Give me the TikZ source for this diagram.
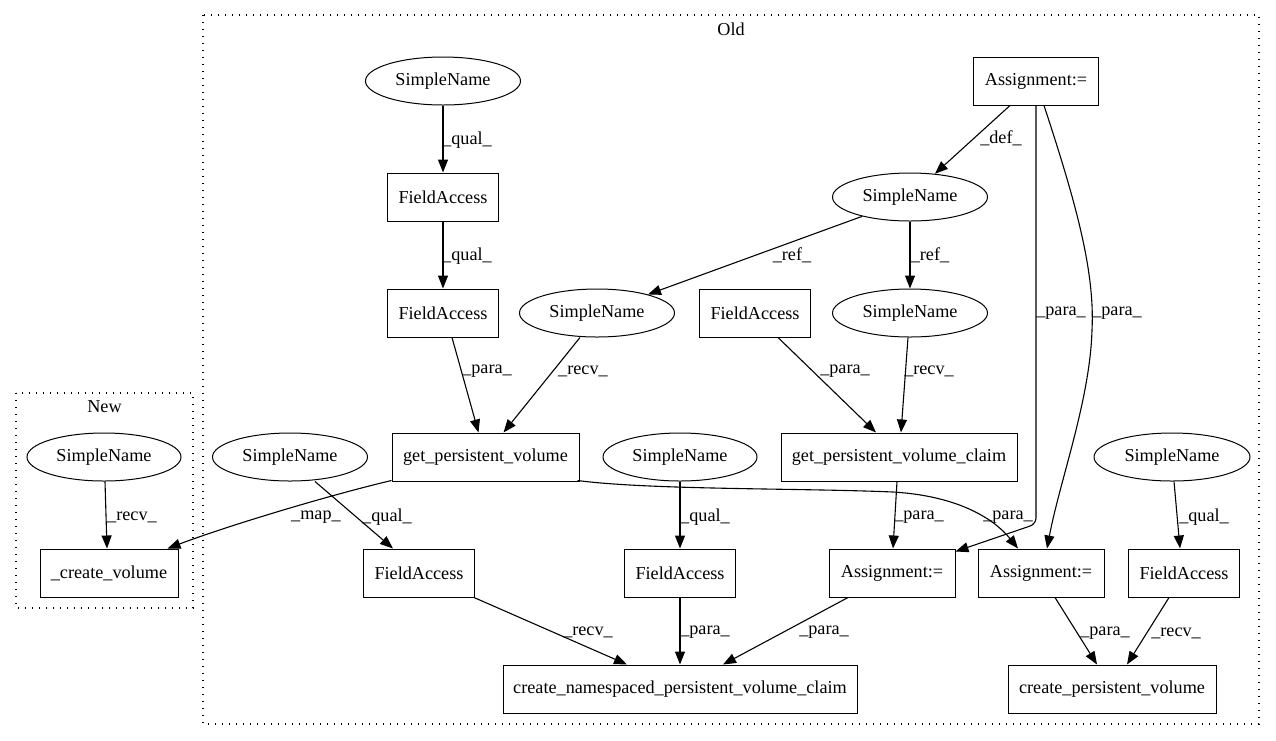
\documentclass[tikz,border=0pt]{standalone}
\usepackage{fontspec}
\setmainfont{Liberation Serif}
\usetikzlibrary{shapes.geometric,arrows.meta}
\begin{document}
\begin{tikzpicture}[x=1pt,y=-1pt,
  every node/.style={font=\fontsize{18.2}{22}\selectfont},
  box/.style={draw, rectangle, line width=1pt, minimum height=48pt, inner sep=0pt},
  ell/.style={draw, ellipse, line width=1pt, minimum height=48pt, minimum width=155pt, inner sep=0pt},
  conn/.style={draw, line width=1.1pt, -{Triangle[length=13pt,width=10pt]}},
  lbl/.style={inner sep=0pt},
  cluster/.style={draw, line width=1.3pt, dash pattern=on 1.3pt off 5.7pt}]
\useasboundingbox (0,0) rectangle (1276,740);
% clusters
\draw[cluster] (203,15) rectangle (1259,724);
\node[lbl] (oldlbl) at (731,29) {Old};
\draw[cluster] (16,393) rectangle (193,608);
\node[lbl] (newlbl) at (104.5,407) {New};
% nodes
\node[ell] (sn1) at (443,81) {SimpleName};
\node[box, minimum width=111pt] (fa1) at (443,197) {FieldAccess};
\node[box, minimum width=111pt] (fa2) at (443,313) {FieldAccess};
\node[box, minimum width=125pt] (as1) at (1036,81) {Assignment:=};
\node[ell] (sn2) at (910,197) {SimpleName};
\node[ell] (sn3) at (597,313) {SimpleName};
\node[box, minimum width=111pt] (fa3) at (755,313) {FieldAccess};
\node[ell] (sn4) at (910,313) {SimpleName};
\node[box, minimum width=187pt] (gpv) at (485.5,457) {get\_persistent\_volume};
\node[box, minimum width=236pt] (gpvc) at (899,457) {get\_persistent\_volume\_claim};
\node[ell, minimum width=154pt] (snN) at (104,457) {SimpleName};
\node[box, minimum width=138pt] (cv) at (109,573) {\_create\_volume};
\node[ell] (sn5) at (290,457) {SimpleName};
\node[ell, minimum width=154pt] (sn6) at (680,457) {SimpleName};
\node[ell, minimum width=156pt] (sn7) at (1172,457) {SimpleName};
\node[box, minimum width=111pt] (fa4) at (419,573) {FieldAccess};
\node[box, minimum width=111pt] (fa5) at (680,573) {FieldAccess};
\node[box, minimum width=126pt] (as2) at (892,573) {Assignment:=};
\node[box, minimum width=126pt] (as3) at (1041,573) {Assignment:=};
\node[box, minimum width=111pt] (fa6) at (1184,573) {FieldAccess};
\node[box, minimum width=354pt] (cnpvc) at (680,689) {create\_namespaced\_persistent\_volume\_claim};
\node[box, minimum width=208pt] (cpv) at (1112,689) {create\_persistent\_volume};
% edges
\draw[conn] (sn1.south) -- (fa1.north);
\node[lbl] (l1) at (467,140) {\_qual\_};
\draw[conn] (fa1.south) -- (fa2.north);
\node[lbl] (l2) at (467,256) {\_qual\_};
\draw[conn] ([xshift=-26pt]as1.south) -- (sn2.43);
\node[lbl] (l3) at (1001,138) {\_def\_};
\draw[conn] (sn2.202) -- (sn3.20);
\node[lbl] (l4) at (792,255) {\_ref\_};
\draw[conn] (sn2.south) -- (sn4.north);
\node[lbl] (l5) at (930,255) {\_ref\_};
\draw[conn, rounded corners=6pt] (as1.south) -- (as1.south |- 0,524) -- ([yshift=-3pt]as2.north east);
\node[lbl] (l6) at (1061,313) {\_para\_};
\draw[conn] ([xshift=8pt]as1.south) .. controls (1075,200) and (1095,270) .. (1092,330) .. controls (1090,400) and (1060,480) .. ([xshift=6pt]as3.north);
\node[lbl] (l7) at (1117,313) {\_para\_};
\draw[conn] ([xshift=9pt]fa2.south) -- ([xshift=-7pt]gpv.north);
\node[lbl] (l8) at (487,371) {\_para\_};
\draw[conn] ([xshift=-17pt]sn3.south) -- ([xshift=18pt]gpv.north);
\node[lbl] (l9) at (583,371) {\_recv\_};
\draw[conn] ([xshift=23pt]fa3.south) -- ([xshift=-23pt]gpvc.north);
\node[lbl] (l10) at (845,371) {\_para\_};
\draw[conn] ([xshift=-2pt]sn4.south) -- ([xshift=2pt]gpvc.north);
\node[lbl] (l11) at (929,371) {\_recv\_};
\draw[conn] ([xshift=1pt]snN.south) -- ([xshift=-2pt]cv.north);
\node[lbl] (l12) at (132,517) {\_recv\_};
\draw[conn] ([yshift=1pt]gpv.south west) .. controls (330,495) and (230,525) .. ([xshift=-11pt]cv.north east);
\node[lbl] (l13) at (316,517) {\_map\_};
\draw[conn] ([xshift=25pt]sn5.south) -- ([xshift=-26pt]fa4.north);
\node[lbl] (l14) at (387,517) {\_qual\_};
\draw[conn] (sn6.south) -- (fa5.north);
\node[lbl] (l15) at (705,517) {\_qual\_};
\draw[conn] ([xshift=-2pt]gpvc.south) -- ([xshift=1pt]as2.north);
\node[lbl] (l16) at (919,517) {\_para\_};
\draw[conn] ([xshift=-2pt,yshift=1pt]gpv.south east) .. controls (650,490) and (800,488) .. (893,492) .. controls (960,496) and (995,520) .. ([xshift=-23pt]as3.north);
\node[lbl] (l17) at (1008,517) {\_para\_};
\draw[conn] ([xshift=2pt]sn7.south) -- ([xshift=-4pt]fa6.north);
\node[lbl] (l18) at (1204,517) {\_qual\_};
\draw[conn] ([xshift=-1pt]fa4.south east) -- ([xshift=-53pt]cnpvc.north);
\node[lbl] (l19) at (588,632) {\_recv\_};
\draw[conn] (fa5.south) -- (cnpvc.north);
\node[lbl] (l20) at (705,632) {\_para\_};
\draw[conn] ([xshift=-44pt]as2.south) -- ([xshift=43pt]cnpvc.north);
\node[lbl] (l21) at (824,632) {\_para\_};
\draw[conn] ([xshift=14pt]as3.south) -- ([xshift=-15pt]cpv.north);
\node[lbl] (l22) at (1105,633) {\_para\_};
\draw[conn] ([xshift=-15pt]fa6.south) -- ([xshift=15pt]cpv.north);
\node[lbl] (l23) at (1176,633) {\_recv\_};
\end{tikzpicture}
\end{document}
